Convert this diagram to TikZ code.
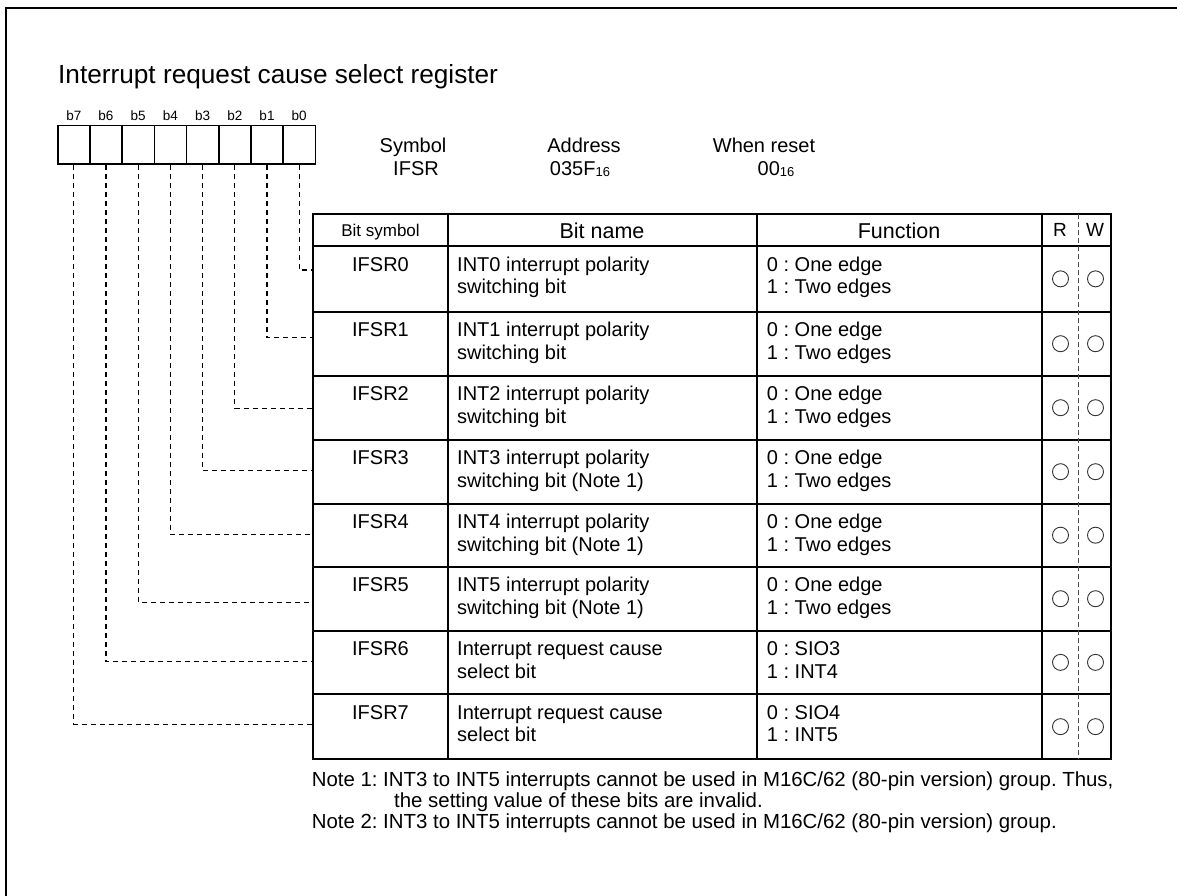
\documentclass[tikz,border=0pt]{standalone}
\usepackage{fontspec}
\setmainfont{Liberation Sans}
\frenchspacing
\newcommand{\hexsub}{\raisebox{-1pt}{\fontsize{13}{13}\selectfont 16}}
\tikzset{
  bitbox/.style={draw, line width=1.6pt, minimum width=32.2pt, minimum height=38.6pt, inner sep=0pt},
  bitlbl/.style={font=\fontsize{13.5}{14}\selectfont, anchor=base, inner sep=0pt},
  body/.style={font=\fontsize{20}{23}\selectfont, inner sep=0pt},
  head/.style={font=\fontsize{21.5}{23}\selectfont, inner sep=0pt, anchor=base},
  note/.style={font=\fontsize{20.4}{21}\selectfont, inner sep=0pt, anchor=base west},
  tabline/.style={line width=2pt},
  conn/.style={line width=1.3pt, dash pattern=on 5pt off 4pt},
  rwline/.style={draw=black!70, line width=0.8pt, dash pattern=on 5pt off 3pt},
  rwmark/.style={draw=black!80, circle, line width=0.9pt, minimum size=16pt, inner sep=0pt}
}
\begin{document}
\begin{tikzpicture}[x=1pt,y=-1pt]
      \useasboundingbox (0,0) rectangle (1177,896);
      \draw[line width=2.6pt] (6,896) -- (6,8) -- (1177,8);
      \node[anchor=base west, inner sep=0pt, font=\fontsize{26.2}{30}\selectfont] (title) at (58,83.3) {Interrupt request cause select register};
      \foreach \i in {0,...,7} {
        \node[bitbox] (b\i) at ({299.2-32.2*\i},145) {};
        \node[bitlbl] (l\i) at ({299.2-32.2*\i},120.7) {b\i};
      }
      \node[body, anchor=base] (symh) at (413,152.7) {Symbol}; \node[body, anchor=base] (symv) at (416,176) {IFSR};
      \node[body, anchor=base] (addh) at (584,152.7) {Address}; \node[body, anchor=base] (addv) at (580,176) {035F\hexsub};
      \node[body, anchor=base] (rsth) at (764,152.7) {When reset}; \node[body, anchor=base] (rstv) at (776,176) {00\hexsub};
      \draw[tabline] (313,214) rectangle (1111,759.3);
      \draw[tabline] (448,214) -- (448,759.3) (756.5,214) -- (756.5,759.3) (1042.3,214) -- (1042.3,759.3);
      \draw[tabline] (313,246) -- (1111,246) (313,311.7) -- (1111,311.7) (313,375.7) -- (1111,375.7) (313,439.7) -- (1111,439.7);
      \draw[tabline] (313,503.7) -- (1111,503.7) (313,566.7) -- (1111,566.7) (313,630.7) -- (1111,630.7) (313,694) -- (1111,694);
      \draw[rwline] (1078,214) -- (1078,759.3);
      \node[font=\fontsize{17}{17}\selectfont, inner sep=0pt, anchor=base] (hsym) at (380.5,236) {Bit symbol};
      \node[head] (hname) at (602,238) {Bit name}; \node[head] (hfunc) at (899,238) {Function};
      \node[font=\fontsize{19}{19}\selectfont, inner sep=0pt, anchor=base] (hr) at (1060,236) {R};
      \node[font=\fontsize{19}{19}\selectfont, inner sep=0pt, anchor=base] (hw) at (1095,236) {W};
      \foreach \r/\t/\u/\c/\s/\na/\nb/\fa/\fb in {
        0/246/311.7/270/IFSR0/INT0 interrupt polarity/switching bit/0 : One edge/1 : Two edges,
        1/311.7/375.7/337.7/IFSR1/INT1 interrupt polarity/switching bit/0 : One edge/1 : Two edges,
        2/375.7/439.7/408.3/IFSR2/INT2 interrupt polarity/switching bit/0 : One edge/1 : Two edges,
        3/439.7/503.7/470.7/IFSR3/INT3 interrupt polarity/switching bit (Note 1)/0 : One edge/1 : Two edges,
        4/503.7/566.7/534.7/IFSR4/INT4 interrupt polarity/switching bit (Note 1)/0 : One edge/1 : Two edges,
        5/566.7/630.7/602.3/IFSR5/INT5 interrupt polarity/switching bit (Note 1)/0 : One edge/1 : Two edges,
        6/630.7/694/661.7/IFSR6/Interrupt request cause/select bit/0 : SIO3/1 : INT4,
        7/694/759.3/724.3/IFSR7/Interrupt request cause/select bit/0 : SIO4/1 : INT5} {
        \node[body, anchor=base] (s\r) at (380.5,{\t+25}) {\s};
        \node[body, anchor=base west] (na\r) at (457,{\t+25}) {\na};
        \node[body, anchor=base west] (nb\r) at (457,{\t+47.5}) {\nb};
        \node[body, anchor=base west] (fa\r) at (766.7,{\t+25}) {\fa};
        \node[body, anchor=base west] (fb\r) at (766.7,{\t+47.5}) {\fb};
        \node[rwmark] (rd\r) at (1060.5,{(\t+\u)/2}) {};
        \node[rwmark] (wr\r) at (1095.5,{(\t+\u)/2}) {};
        \coordinate (p\r) at (313,\c);
        \draw[conn] (b\r.south) -- (b\r.south |- p\r) -- (p\r);
      }
      \node[note] (note1) at (311.6,786) {Note 1: INT3 to INT5 interrupts cannot be used in M16C/62 (80-pin version) group. Thus,};
      \node[note] (note1b) at (394,807) {the setting value of these bits are invalid.};
      \node[note] (note2) at (311.6,828) {Note 2: INT3 to INT5 interrupts cannot be used in M16C/62 (80-pin version) group.};
    \end{tikzpicture}
\end{document}
